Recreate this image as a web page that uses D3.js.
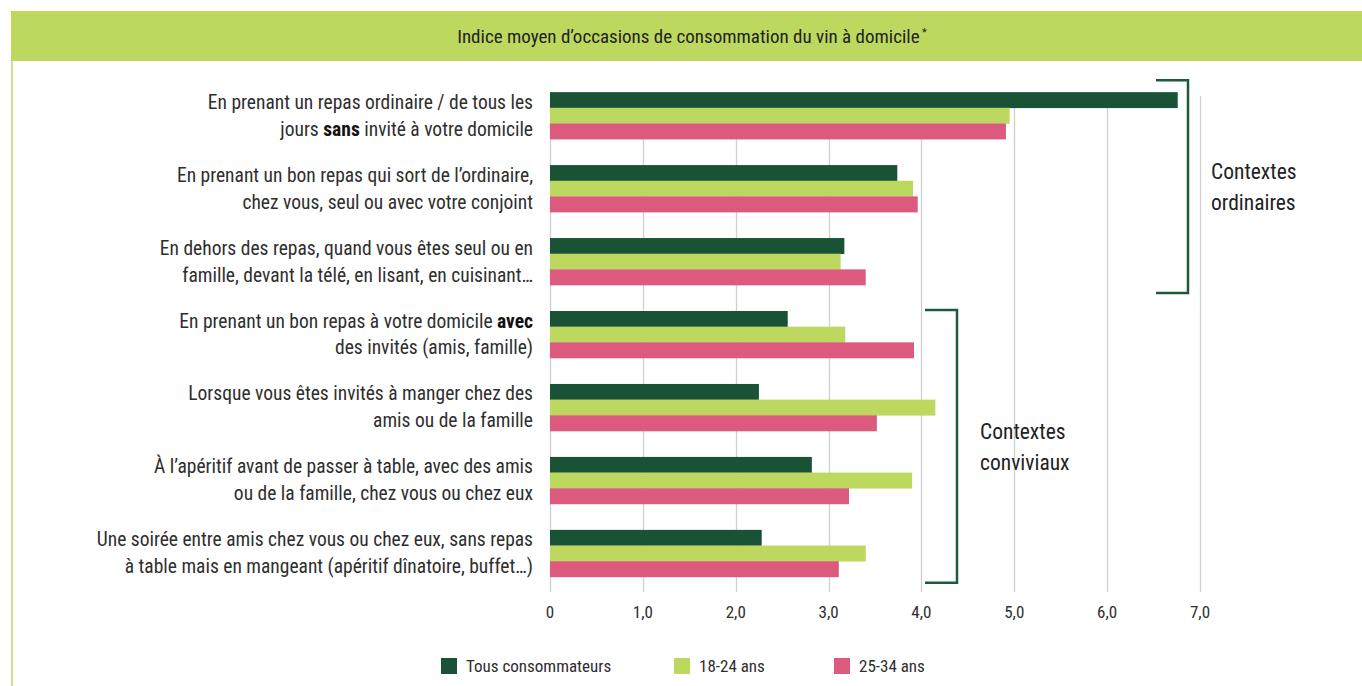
<!DOCTYPE html>
<html>
<head>
<meta charset="utf-8">
<script src="https://cdn.jsdelivr.net/npm/d3@7"></script>
<style>
body { margin: 0; background: #fff; }
text { font-family: "Liberation Sans Narrow", "Roboto Condensed", "Roboto", sans-serif; }
</style>
</head>
<body>
<div id="container"></div>
<script>
// Data
var categories = [
	["En prenant un repas ordinaire / de tous les", "jours **sans** invité à votre domicile"],
	["En prenant un bon repas qui sort de l’ordinaire,", "chez vous, seul ou avec votre conjoint"],
	["En dehors des repas, quand vous êtes seul ou en", "famille, devant la télé, en lisant, en cuisinant…"],
	["En prenant un bon repas à votre domicile **avec**", "des invités (amis, famille)"],
	["Lorsque vous êtes invités à manger chez des", "amis ou de la famille"],
	["À l’apéritif avant de passer à table, avec des amis", "ou de la famille, chez vous ou chez eux"],
	["Une soirée entre amis chez vous ou chez eux, sans repas", "à table mais en mangeant (apéritif dînatoire, buffet…)"]
];
var seriesNames = ["Tous consommateurs", "18-24 ans", "25-34 ans"];
var tous    = [6.76, 3.74, 3.17, 2.56, 2.25, 2.82, 2.28];
var jeunes  = [4.95, 3.91, 3.13, 3.18, 4.15, 3.90, 3.40];
var adultes = [4.91, 3.96, 3.40, 3.92, 3.52, 3.22, 3.11];
var tickValues = [0, 1, 2, 3, 4, 5, 6, 7];
var tickLabels = ["0", "1,0", "2,0", "3,0", "4,0", "5,0", "6,0", "7,0"];
var groupLabels = [["Contextes", "ordinaires"], ["Contextes", "conviviaux"]];
var groupFirst = [0, 3];
var groupLast = [2, 6];
var title = "Indice moyen d’occasions de consommation du vin à domicile";

// Layout / style
var W = 1362, H = 686;
var colors = ["#1a5236", "#bdd85f", "#db5a7d"];
var textColor = "#2e2e2e";
var bracketColor = "#1d5a3b";
var bracketLayout = [
	{ x: 1188, top: -12, bottom: 8, textX: 1211, textY: 172 },
	{ x: 957, top: -1, bottom: 6, textX: 980, textY: 432 }
];

var svg = d3.select("#container").append("svg")
	.attr("width", W)
	.attr("height", H);

// Title bar
svg.append("rect")
	.attr("x", 11).attr("y", 11)
	.attr("width", W - 11).attr("height", 50)
	.attr("fill", "#bdd85f");
svg.append("rect")
	.attr("x", 11).attr("y", 61)
	.attr("width", 2).attr("height", H - 61)
	.attr("fill", "#cfe38f");
var t = svg.append("text")
	.attr("x", 692).attr("y", 43)
	.attr("text-anchor", "middle")
	.attr("font-size", 19)
	.attr("fill", "#222");
t.append("tspan").text(title);
t.append("tspan").attr("dy", -7).attr("font-size", 11).text(" *");

// Scales
var x = d3.scaleLinear().domain([0, 7]).range([550, 1200]);
var y = d3.scaleBand().domain(d3.range(categories.length)).range([79, 590])
	.paddingInner(0.356).paddingOuter(0.18);
var ySub = d3.scaleBand().domain(d3.range(seriesNames.length)).range([0, y.bandwidth()]);

// Gridlines
svg.append("g").selectAll("line")
	.data(tickValues)
	.enter()
	.append("line")
	.attr("x1", function(d) { return Math.round(x(d)) + 0.5; })
	.attr("x2", function(d) { return Math.round(x(d)) + 0.5; })
	.attr("y1", 96)
	.attr("y2", 592)
	.attr("stroke", "#d0d0d0")
	.attr("stroke-width", 1.3);

// Tick labels
svg.append("g").selectAll("text")
	.data(tickValues)
	.enter()
	.append("text")
	.attr("x", function(d) { return x(d); })
	.attr("y", 618)
	.attr("text-anchor", "middle")
	.attr("font-size", 17)
	.attr("fill", textColor)
	.text(function(d, i) { return tickLabels[i]; });

// Bars
var series = [tous, jeunes, adultes];
var rows = svg.append("g").selectAll("g")
	.data(categories.map(function(c, i) { return i; }))
	.enter()
	.append("g")
	.attr("transform", function(i) { return "translate(0," + y(i) + ")"; });

rows.selectAll("rect")
	.data(function(i) { return series.map(function(s, k) { return { k: k, v: s[i] }; }); })
	.enter()
	.append("rect")
	.attr("x", x(0))
	.attr("y", function(d) { return ySub(d.k); })
	.attr("width", function(d) { return x(d.v) - x(0); })
	.attr("height", ySub.bandwidth() + 0.3)
	.attr("fill", function(d) { return colors[d.k]; });

// Category labels (with bold parts)
rows.each(function(i) {
	var g = d3.select(this);
	var lines = categories[i];
	var mid = y.bandwidth() / 2;
	lines.forEach(function(line, li) {
		var txt = g.append("text")
			.attr("x", 533)
			.attr("y", mid + (li - (lines.length - 1) / 2) * 27 + 6.5)
			.attr("text-anchor", "end")
			.attr("font-size", 19.5)
			.attr("fill", textColor);
		line.split("**").forEach(function(part, pi) {
			if (part === "") return;
			txt.append("tspan")
				.attr("font-weight", pi % 2 ? "bold" : null)
				.attr("fill", pi % 2 ? "#111" : null)
				.text(part);
		});
	});
});

// Brackets for context groups
groupLabels.forEach(function(lbl, gi) {
	var L = bracketLayout[gi];
	var top = y(groupFirst[gi]) + L.top;
	var bottom = y(groupLast[gi]) + y.bandwidth() + L.bottom;
	svg.append("path")
		.attr("d", "M" + (L.x - 32) + "," + top + "H" + L.x + "V" + bottom + "H" + (L.x - 32))
		.attr("fill", "none")
		.attr("stroke", bracketColor)
		.attr("stroke-width", 2.5);
	lbl.forEach(function(s, li) {
		svg.append("text")
			.attr("x", L.textX)
			.attr("y", L.textY + li * 31 + 7)
			.attr("font-size", 21.5)
			.attr("fill", "#222")
			.text(s);
	});
});

// Legend
var legendX = [441, 674, 834];
var legend = svg.append("g").selectAll("g")
	.data(seriesNames)
	.enter()
	.append("g")
	.attr("transform", function(d, i) { return "translate(" + legendX[i] + ",658)"; });
legend.append("rect")
	.attr("width", 16).attr("height", 16)
	.attr("fill", function(d, i) { return colors[i]; });
legend.append("text")
	.attr("x", 25).attr("y", 14)
	.attr("font-size", 17)
	.attr("fill", textColor)
	.text(function(d) { return d; });
</script>
</body>
</html>
